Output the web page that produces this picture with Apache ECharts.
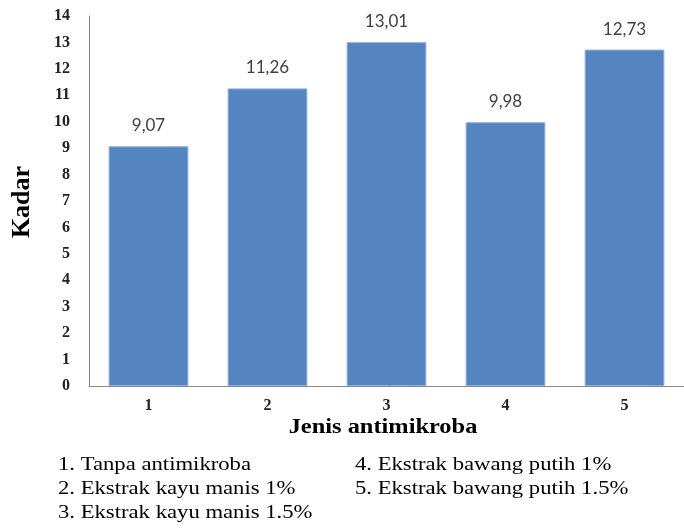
<!DOCTYPE html>
<html><head><meta charset="utf-8">
<script src="https://cdn.jsdelivr.net/npm/echarts@6/dist/echarts.min.js"></script>
<style>html,body{margin:0;padding:0;background:#fff}#c{width:684px;height:530px}</style>
</head><body><div id="c"></div>
<script>
const categories = ['1','2','3','4','5'];
const values = [9.07, 11.26, 13.01, 9.98, 12.73];
const valueLabels = ['9,07','11,26','13,01','9,98','12,73'];
const yTicks = [0,1,2,3,4,5,6,7,8,9,10,11,12,13,14];
const xTitle = 'Jenis antimikroba';
const yTitle = 'Kadar';
const notes = [
  ['1. Tanpa antimikroba', '4. Ekstrak bawang putih 1%'],
  ['2. Ekstrak kayu manis 1%', '5. Ekstrak bawang putih 1.5%'],
  ['3. Ekstrak kayu manis 1.5%', '']
];
const serif = '"Liberation Serif", "DejaVu Serif", serif';
const chart = echarts.init(document.getElementById('c'), null, {renderer:'canvas'});
const graphics = [];
notes.forEach((row, i) => {
  row.forEach((t, j) => {
    if (!t) return;
    graphics.push({type:'text', x: j === 0 ? 58 : 355, y: 465 + i*24, scaleX:1.26,
      style:{text:t, font:'18px ' + serif, fill:'#000', textAlign:'left', textVerticalAlign:'middle'}});
  });
});
graphics.push({type:'text', x:383, y:428, scaleX:1.22,
  style:{text:xTitle, font:'bold 20px ' + serif, fill:'#000', textAlign:'center', textVerticalAlign:'middle'}});
graphics.push({type:'text', x:22, y:202, rotation:Math.PI/2,
  style:{text:yTitle, font:'bold 26px ' + serif, fill:'#000', textAlign:'center', textVerticalAlign:'middle'}});
chart.setOption({
  animation:false,
  grid:{left:89, right:-4, top:16, bottom:144, containLabel:false},
  xAxis:{type:'category', data:categories,
    axisLine:{lineStyle:{color:'#888', width:1}}, axisTick:{show:false},
    axisLabel:{margin:12, fontFamily:serif, fontSize:16, fontWeight:'bold', color:'#222'}},
  yAxis:{type:'value', min:0, max:14, interval:1,
    axisLine:{show:true, lineStyle:{color:'#888', width:1}}, axisTick:{show:false},
    splitLine:{show:false},
    axisLabel:{margin:19, fontFamily:serif, fontSize:16, fontWeight:'bold', color:'#222',
      formatter: v => yTicks.includes(v) ? String(v) : ''}},
  series:[{type:'bar', data:values, barCategoryGap:'33%',
    itemStyle:{color:'#5585C0', borderColor:'#8FB0DA', borderWidth:1},
    label:{show:true, position:'top', distance:12, fontFamily:'Lato, "Open Sans", sans-serif',
      fontSize:17, color:'#404040', formatter: p => valueLabels[p.dataIndex]}}],
  graphic: graphics
});
</script></body></html>
